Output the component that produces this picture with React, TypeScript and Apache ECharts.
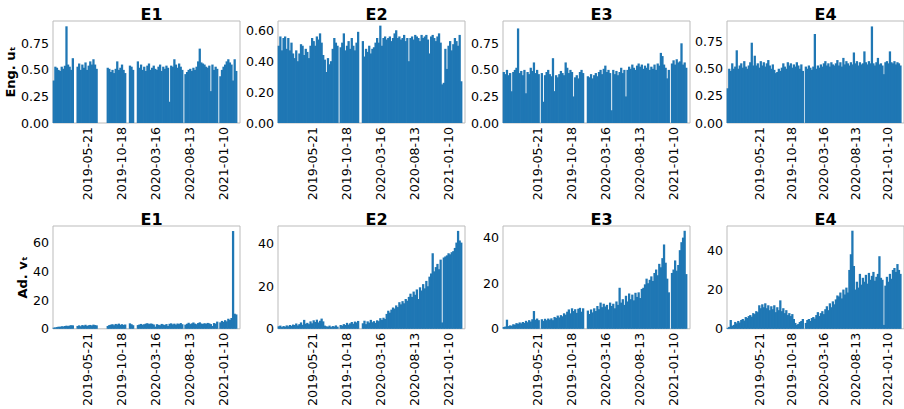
import React, { useEffect, useRef } from "react";
import * as echarts from "echarts";

// ---- data (weekly bins starting 2018-12-22) ----
const START_UTC = Date.UTC(2018, 11, 22);
const BIN_DAYS = 7;
const X_MAX_DAYS = 825;
const X_TICK_STEP = 150;

const titles = ["E1", "E2", "E3", "E4"];

const eng1 = [
  0.40, 0.53, 0.52, 0.50, 0.49, 0.53, 0.51, 0.54, 0.91, 0.55,
  0.53, 0.50, 0.61, 0, 0, 0.53, 0.56, 0.50, 0.55, 0.52,
  0.57, 0.50, 0.54, 0.58, 0.55, 0.60, 0.55, 0.51, 0, 0,
  0, 0, 0, 0, 0.52, 0.51, 0.48, 0.50, 0.47, 0.51,
  0.58, 0.50, 0.52, 0.55, 0.50, 0.47, 0, 0, 0.54, 0.53,
  0.50, 0, 0, 0.58, 0.52, 0.55, 0.50, 0.53, 0.49, 0.54,
  0.56, 0.50, 0.52, 0.54, 0.51, 0.50, 0.53, 0.55, 0.49, 0.53,
  0.51, 0.54, 0.52, 0.20, 0.54, 0.53, 0.60, 0.55, 0.52, 0.56,
  0.53, 0.50, 0, 0.46, 0.48, 0.50, 0.51, 0.49, 0.52, 0.50,
  0.53, 0.58, 0.70, 0.57, 0.56, 0.55, 0.53, 0.52, 0.54, 0.30,
  0.55, 0.50, 0.53, 0.51, 0, 0.44, 0.50, 0.53, 0.55, 0.58,
  0.60, 0.57, 0.55, 0.40, 0.60, 0.49,
];

const eng2 = [
  0.50, 0.56, 0.47, 0.55, 0.56, 0.48, 0.55, 0.47, 0.52, 0.45,
  0.42, 0.47, 0.40, 0.45, 0.51, 0.50, 0.44, 0.48, 0.46, 0.42,
  0.50, 0.55, 0.53, 0.50, 0.56, 0.54, 0.58, 0.52, 0.44, 0.41,
  0.33, 0.42, 0.38, 0.40, 0.48, 0.55, 0.52, 0.50, 0, 0.49,
  0.52, 0.58, 0.47, 0.50, 0.53, 0.48, 0.55, 0.50, 0.47, 0.52,
  0.59, 0, 0, 0.53, 0.43, 0.48, 0.46, 0.50, 0.45, 0.48,
  0.49, 0.52, 0.55, 0.52, 0.63, 0.50, 0.55, 0.56, 0.54, 0.55,
  0.56, 0.53, 0.55, 0.58, 0.60, 0.55, 0.56, 0.54, 0.55, 0.57,
  0.53, 0.55, 0.40, 0.55, 0.56, 0.54, 0.57, 0.56, 0.55, 0.53,
  0.57, 0.55, 0.56, 0.57, 0.54, 0.45, 0.56, 0.57, 0.55, 0.53,
  0.56, 0.58, 0.52, 0.25, 0.26, 0.48, 0.35, 0.50, 0.53, 0.47,
  0.51, 0.55, 0.53, 0.50, 0.57, 0.27,
];

const eng3 = [
  0.48, 0.46, 0.50, 0.45, 0.47, 0.30, 0.48, 0.50, 0.52, 0.89,
  0.47, 0.49, 0.45, 0.50, 0.28, 0.48, 0.46, 0.52, 0.49, 0.57,
  0.47, 0.50, 0.46, 0, 0.47, 0.20, 0.45, 0.48, 0.50, 0.46,
  0.44, 0.61, 0.30, 0.45, 0.43, 0.46, 0.49, 0.47, 0.45, 0.57,
  0.52, 0.47, 0.50, 0.48, 0.25, 0.43, 0.45, 0.42, 0.48, 0.50,
  0.47, 0, 0, 0.44, 0.43, 0.46, 0.42, 0.45, 0.47, 0.44,
  0.48, 0.50, 0.46, 0.51, 0.54, 0.48, 0.50, 0.47, 0.12, 0.50,
  0.46, 0.49, 0.45, 0.48, 0.52, 0.47, 0.50, 0.25, 0.50, 0.53,
  0.51, 0.55, 0.52, 0.50, 0.54, 0.56, 0.53, 0.55, 0.51, 0.54,
  0.52, 0.56, 0.50, 0.53, 0.51, 0.55, 0.50, 0.56, 0.54, 0.66,
  0.63, 0.55, 0.52, 0.42, 0.50, 0, 0.56, 0.59, 0.55, 0.60,
  0.57, 0.58, 0.75, 0.55, 0.57, 0.52,
];

const eng4 = [
  0.32, 0.50, 0.48, 0.55, 0.50, 0.52, 0.67, 0.50, 0.53, 0.55,
  0.51, 0.57, 0.52, 0.50, 0.53, 0.56, 0.74, 0.53, 0.62, 0.53,
  0.55, 0.51, 0.57, 0.53, 0.56, 0.52, 0.55, 0.58, 0.53, 0.50,
  0.54, 0.49, 0.46, 0.47, 0.50, 0.48, 0.51, 0.55, 0.52, 0.50,
  0.56, 0.53, 0.55, 0.51, 0.54, 0.52, 0.56, 0.53, 0.50, 0.54,
  0.48, 0, 0.52, 0.50, 0.53, 0.51, 0.49, 0.52, 0.82, 0.50,
  0.53, 0.51, 0.54, 0.52, 0.55, 0.57, 0.53, 0.55, 0.52, 0.56,
  0.54, 0.53, 0.55, 0.58, 0.53, 0.56, 0.52, 0.60, 0.54, 0.57,
  0.55, 0.53, 0.56, 0.54, 0.65, 0.55, 0.57, 0.53, 0.56, 0.54,
  0.55, 0.66, 0.56, 0.54, 0.57, 0.55, 0.89, 0.55, 0.53, 0.56,
  0.60, 0.54, 0.55, 0.53, 0.45, 0.56, 0.57, 0.55, 0.66, 0.56,
  0.55, 0.57, 0.54, 0.56, 0.55, 0.53,
];

const ad1 = [
  0.8, 1.0, 1.2, 1.5, 1.4, 1.8, 1.6, 2.0, 2.2, 1.9,
  2.3, 2.5, 2.4, 0, 0, 2.0, 2.4, 1.8, 2.6, 2.2,
  2.8, 2.0, 2.5, 2.7, 2.3, 2.9, 2.6, 2.4, 0, 0,
  0, 0, 0, 0, 2.0, 2.6, 2.9, 3.2, 2.5, 3.4,
  3.0, 3.6, 2.8, 3.2, 2.7, 3.0, 0, 0, 3.8, 3.2,
  2.5, 0, 0, 2.6, 3.0, 3.4, 2.8, 3.2, 3.6, 3.9,
  3.3, 3.7, 3.5, 3.0, 1.5, 3.2, 2.8, 2.5, 3.4, 3.0,
  2.6, 3.3, 2.0, 3.5, 3.8, 3.1, 3.6, 2.9, 3.7, 3.3,
  4.0, 3.2, 0, 2.9, 3.5, 4.2, 3.3, 3.8, 4.4, 3.6,
  3.2, 4.0, 4.5, 3.7, 3.4, 3.9, 3.5, 4.1, 3.8, 3.3,
  2.0, 4.0, 3.6, 5.0, 0, 4.5, 5.5, 4.8, 6.0, 5.2,
  7.0, 6.2, 7.5, 68.0, 10.5, 10.0,
];

const ad2 = [
  1.2, 1.5, 0.8, 1.3, 1.0, 1.6, 1.2, 1.8, 1.4, 2.0,
  1.8, 2.5, 1.6, 2.2, 3.0, 1.9, 4.2, 2.4, 2.8, 2.2,
  3.5, 2.6, 4.0, 3.2, 4.3, 3.0, 3.8, 4.8, 3.5, 1.5,
  1.2, 1.0, 1.5, 0.8, 1.3, 1.1, 1.6, 1.0, 0, 1.8,
  1.5, 2.2, 1.8, 2.8, 2.0, 2.6, 3.2, 2.4, 3.4, 3.0,
  3.7, 0, 0, 2.6, 3.8, 2.2, 3.5, 2.9, 4.2, 3.1,
  3.6, 2.8, 4.0, 3.6, 5.0, 4.2, 5.2, 4.6, 7.0, 8.5,
  7.6, 9.0, 10.0, 9.5, 11.0, 10.2, 12.5, 11.5, 13.0, 12.0,
  14.0, 13.2, 15.0, 16.5, 15.0, 17.5, 16.0, 18.5, 14.0, 19.5,
  18.0, 21.0, 19.0, 22.5, 20.0, 24.5, 26.0, 35.5, 27.0, 29.0,
  30.5, 28.0, 32.5, 3.0, 33.5, 34.0, 34.5, 35.5, 35.0, 36.0,
  36.5, 38.0, 40.5, 46.0, 41.5, 40.5,
];

const ad3 = [
  0.8, 1.0, 4.0, 1.2, 1.5, 1.3, 2.0, 1.8, 2.5, 2.2,
  2.8, 2.4, 3.0, 2.6, 3.5, 2.9, 3.8, 3.2, 4.2, 7.8,
  4.0, 4.5, 3.8, 0, 4.2, 3.5, 4.4, 3.8, 4.5, 4.0,
  4.6, 3.8, 5.2, 4.8, 5.8, 5.0, 6.0, 5.5, 6.8, 6.2,
  7.5, 8.5, 6.8, 9.0, 7.8, 8.6, 7.0, 8.8, 9.2, 7.5,
  9.0, 0, 0, 8.0, 6.5, 8.5, 7.2, 9.0, 7.8, 10.0,
  8.6, 11.5, 9.5, 11.0, 9.8, 10.5, 8.5, 11.5, 10.0, 11.0,
  9.0, 12.0, 10.5, 18.0, 11.5, 13.0, 10.5, 14.5, 12.0, 15.5,
  13.0, 15.0, 12.5, 15.8, 14.0, 16.0, 13.5, 17.5, 18.0, 19.5,
  22.0, 20.0, 21.5, 23.0, 21.0, 24.5, 26.0, 23.5, 28.5, 27.0,
  31.0, 37.0, 29.0, 22.0, 16.0, 0, 24.5, 26.0, 30.0, 25.5,
  28.0, 34.5, 38.0, 40.0, 43.0, 24.0,
];

const ad4 = [
  0.5, 1.0, 4.5, 1.5, 2.0, 3.5, 2.8, 4.0, 3.2, 4.5,
  5.0, 4.2, 6.0, 5.5, 6.5, 7.0, 6.2, 8.0, 7.5, 9.0,
  8.5, 12.0, 10.5, 12.5, 11.0, 13.0, 10.5, 12.0, 9.5, 11.5,
  10.0, 12.0, 8.5, 11.0, 9.5, 14.5, 9.0, 10.5, 8.0, 9.5,
  7.0, 8.0, 6.5, 7.5, 5.0, 3.0, 2.0, 2.5, 3.5, 4.0,
  5.0, 0, 3.0, 4.5, 5.0, 4.0, 5.5, 6.0, 5.2, 7.0,
  8.5, 6.5, 8.0, 9.0, 7.5, 10.0, 11.5, 9.5, 13.0, 11.0,
  14.0, 12.5, 15.0, 17.0, 16.5, 18.5, 15.5, 20.0, 17.5, 21.0,
  18.5, 30.0, 38.0, 50.0, 32.0, 20.0, 24.0, 21.0, 28.0, 22.5,
  26.0, 24.0, 27.5, 23.0, 28.5, 25.0, 27.0, 29.0, 24.5, 26.5,
  28.0, 37.0, 26.0, 25.0, 2.0, 22.0, 26.5, 24.0, 28.0, 25.5,
  30.0, 31.0, 29.0, 33.0, 30.0, 28.0,
];

const engSeries = [eng1, eng2, eng3, eng4];
const adSeries = [ad1, ad2, ad3, ad4];

// y axis scales per panel
const engMax = [0.96, 0.66, 0.96, 0.94];
const engStep = [0.25, 0.2, 0.25, 0.25];
const adMax = [71.5, 48.3, 45.1, 52.4];
const adStep = [20, 20, 20, 20];

const FONT = "DejaVu Sans";
const BLUE = "#1f77b4";

function dateLabel(day: number): string {
  const d = new Date(START_UTC + day * 86400000);
  return d.toISOString().slice(0, 10);
}

function isMultiple(v: number, step: number) {
  const r = v / step;
  return Math.abs(r - Math.round(r)) < 1e-6;
}

export default function App() {
  const ref = useRef<HTMLDivElement>(null);

  useEffect(() => {
    if (!ref.current) return;
    const chart = echarts.init(ref.current, undefined, { renderer: "svg" });

    const colLeft = [53, 278, 503, 727];
    const plotW = 187;
    const rowTop = [21, 226];
    const rowH = [102, 103];
    const barW = (plotW * BIN_DAYS) / X_MAX_DAYS;

    const grids: any[] = [];
    const xAxes: any[] = [];
    const yAxes: any[] = [];
    const series: any[] = [];
    const titleOpts: any[] = [];

    for (let r = 0; r < 2; r++) {
      for (let c = 0; c < 4; c++) {
        const k = r * 4 + c;
        grids.push({
          left: colLeft[c],
          top: rowTop[r],
          width: plotW,
          height: rowH[r],
          show: true,
          borderColor: "#bbbbbb",
          borderWidth: 1,
          backgroundColor: "transparent",
        });
        titleOpts.push({
          text: titles[c],
          left: colLeft[c] + plotW / 2,
          top: r === 0 ? 1 : 206,
          textAlign: "center",
          textStyle: {
            fontFamily: FONT,
            fontWeight: "bold",
            fontSize: 16,
            color: "#000",
          },
        });
        xAxes.push({
          type: "value",
          gridIndex: k,
          min: 0,
          max: X_MAX_DAYS,
          interval: X_TICK_STEP,
          axisLine: { show: false },
          axisTick: { show: false },
          splitLine: { show: false },
          axisLabel: {
            rotate: 90,
            margin: 4,
            fontFamily: FONT,
            fontSize: 12.6,
            color: "#000",
            formatter: (v: number) =>
              v > 0 && isMultiple(v, X_TICK_STEP) ? dateLabel(v) : "",
          },
        });
        const isEng = r === 0;
        const step = isEng ? engStep[c] : adStep[c];
        yAxes.push({
          type: "value",
          gridIndex: k,
          min: 0,
          max: isEng ? engMax[c] : adMax[c],
          interval: step,
          axisLine: { show: false },
          axisTick: { show: false },
          splitLine: { show: false },
          name: c === 0 ? (isEng ? "Eng. uₜ" : "Ad. vₜ") : "",
          nameLocation: "middle",
          nameGap: isEng ? 28 : 19,
          nameTextStyle: {
            fontFamily: FONT,
            fontWeight: "bold",
            fontSize: 13,
            color: "#000",
          },
          axisLabel: {
            margin: 4,
            fontFamily: FONT,
            fontSize: 12.6,
            color: "#000",
            formatter: (v: number) =>
              isMultiple(v, step) ? (isEng ? v.toFixed(2) : String(Math.round(v))) : "",
          },
        });
        const vals = isEng ? engSeries[c] : adSeries[c];
        series.push({
          type: "bar",
          xAxisIndex: k,
          yAxisIndex: k,
          barWidth: barW,
          barMinWidth: barW + 0.7,
          itemStyle: { color: BLUE },
          data: vals.map((v, i) => [i * BIN_DAYS + BIN_DAYS / 2, v]),
        });
      }
    }

    chart.setOption({
      animation: false,
      backgroundColor: "#ffffff",
      title: titleOpts,
      grid: grids,
      xAxis: xAxes,
      yAxis: yAxes,
      series,
    });

    return () => chart.dispose();
  }, []);

  return (
    <div
      ref={ref}
      style={{ position: "absolute", left: 0, top: 0, width: 904, height: 409 }}
    />
  );
}
